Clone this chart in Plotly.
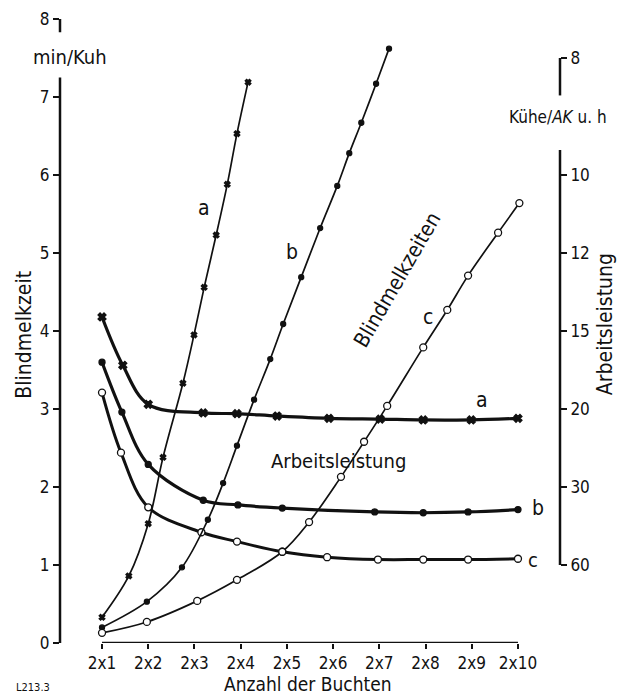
import plotly.graph_objects as go

# ---------------- data (x in "Buchten" units, y in min/Kuh) ----------------
x_ticks = [1, 2, 3, 4, 5, 6, 7, 8, 9, 10]
x_ticktext = ["2x1", "2x2", "2x3", "2x4", "2x5", "2x6", "2x7", "2x8", "2x9", "2x10"]

left_ticks = [0, 1, 2, 3, 4, 5, 6, 7, 8]
right_tickvals = [7.5, 6, 5, 4, 3, 2, 1]          # positions on min/Kuh scale (60/k)
right_ticktext = ["8", "10", "12", "15", "20", "30", "60"]

# Arbeitsleistung (thick curves)
arb_a_x = [1, 1.45, 2, 3.19, 3.92, 4.79, 5.91, 7.02, 7.95, 8.99, 10]
arb_a_y = [4.18, 3.56, 3.06, 2.95, 2.94, 2.91, 2.88, 2.87, 2.86, 2.86, 2.88]
arb_b_x = [1, 1.43, 2, 3.19, 3.94, 4.9, 6.9, 7.95, 8.92, 10]
arb_b_y = [3.60, 2.96, 2.29, 1.83, 1.77, 1.73, 1.68, 1.67, 1.68, 1.71]
arb_c_x = [1, 1.41, 2, 3.15, 3.92, 4.9, 5.87, 6.97, 7.95, 8.92, 10]
arb_c_y = [3.21, 2.44, 1.74, 1.42, 1.30, 1.17, 1.10, 1.07, 1.07, 1.07, 1.08]

# Blindmelkzeiten (thin curves)
bl_a_x = [1, 1.58, 2.0, 2.32, 2.75, 2.99, 3.21, 3.47, 3.71, 3.92, 4.16]
bl_a_y = [0.33, 0.86, 1.53, 2.38, 3.33, 3.95, 4.56, 5.23, 5.88, 6.53, 7.19]
bl_b_x = [1, 1.97, 2.73, 3.29, 3.62, 3.92, 4.29, 4.64, 4.92, 5.31, 5.72, 6.09, 6.35, 6.61, 6.93, 7.21]
bl_b_y = [0.20, 0.53, 0.97, 1.58, 2.05, 2.53, 3.12, 3.64, 4.09, 4.69, 5.32, 5.86, 6.28, 6.67, 7.17, 7.62]
bl_c_x = [1, 1.97, 3.06, 3.92, 4.9, 5.48, 6.17, 6.67, 7.17, 7.95, 8.47, 8.92, 9.57, 10.03]
bl_c_y = [0.13, 0.27, 0.54, 0.81, 1.17, 1.55, 2.13, 2.58, 3.04, 3.79, 4.27, 4.71, 5.26, 5.64]

FONT = "DejaVu Sans Condensed, Liberation Sans Narrow, DejaVu Sans, sans-serif"
BLACK = "#111111"

fig = go.Figure()

def add_curve(xs, ys, width, symbol, size, fill):
    fig.add_trace(go.Scatter(
        x=xs, y=ys, mode="lines+markers",
        line=dict(color=BLACK, width=width, shape="spline", smoothing=1.0),
        marker=dict(symbol=symbol, size=size, color=fill,
                    line=dict(color=BLACK, width=1.3)),
        showlegend=False, hoverinfo="skip"))

# thick Arbeitsleistung curves
add_curve(arb_a_x, arb_a_y, 3.2, "x", 7, BLACK)
add_curve(arb_b_x, arb_b_y, 3.2, "circle", 6, BLACK)
add_curve(arb_c_x, arb_c_y, 3.0, "circle", 7, "white")
# thin Blindmelkzeiten curves
add_curve(bl_a_x, bl_a_y, 1.7, "x", 5, BLACK)
add_curve(bl_b_x, bl_b_y, 1.7, "circle", 5, BLACK)
add_curve(bl_c_x, bl_c_y, 1.7, "circle", 7, "white")

# dummy trace for right axis
fig.add_trace(go.Scatter(x=[1], y=[1], yaxis="y2", mode="markers",
                         marker=dict(opacity=0), showlegend=False, hoverinfo="skip"))

shapes = [
    # x axis line between first and last category
    dict(type="line", xref="x", yref="y", x0=1, x1=10, y0=0, y1=0,
         line=dict(color=BLACK, width=2.5)),
    # left axis line (broken below top '8')
    dict(type="line", xref="paper", yref="y", x0=0, x1=0, y0=0, y1=7.25,
         line=dict(color=BLACK, width=2.5)),
    dict(type="line", xref="paper", yref="y", x0=0, x1=0, y0=7.83, y1=8.0,
         line=dict(color=BLACK, width=2.5)),
    # right axis line
    dict(type="line", xref="paper", yref="y", x0=1, x1=1, y0=1, y1=6.32,
         line=dict(color=BLACK, width=2.5)),
    dict(type="line", xref="paper", yref="y", x0=1, x1=1, y0=7.02, y1=7.5,
         line=dict(color=BLACK, width=2.5)),
]

ann = []
def label(text, x, y, size=17, angle=0, xref="x", yref="y"):
    ann.append(dict(text=text, x=x, y=y, xref=xref, yref=yref, showarrow=False,
                    textangle=angle, font=dict(size=size, color=BLACK, family=FONT),
                    xanchor="center", yanchor="middle"))

label("a", 3.21, 5.58, 21)
label("b", 5.11, 5.01, 21)
label("c", 8.06, 4.18, 21)
label("a", 9.23, 3.12, 21)
label("b", 10.44, 1.73, 21)
label("c", 10.33, 1.06, 20)
label("Blindmelkzeiten", 7.39, 4.65, 21, angle=-60)
label("Arbeitsleistung", 6.11, 2.33, 20)
label("min/Kuh", 0.02, 0.939, 20, xref="paper", yref="paper")
label("Kühe/<i>AK</i> u. h", 0.996, 0.843, 17, xref="paper", yref="paper")
label("Arbeitsleistung", 1.09, 0.511, 21, angle=-90, xref="paper", yref="paper")
label("Blindmelkzeit", -0.072, 0.494, 21, angle=-90, xref="paper", yref="paper")
label("Anzahl der Buchten", 0.496, -0.065, 19, xref="paper", yref="paper")
label("L213.3", -0.054, -0.072, 11, xref="paper", yref="paper")

TICKFONT = dict(size=17, family=FONT, color=BLACK)

fig.update_layout(
    width=618, height=687,
    margin=dict(l=52, r=66, t=11, b=52, autoexpand=False),
    paper_bgcolor="white", plot_bgcolor="white",
    font=dict(family=FONT, color=BLACK, size=16),
    shapes=shapes, annotations=ann,
    xaxis=dict(range=[1 - 42 / 46.2, 10 + 42 / 46.2], tickvals=x_ticks, ticktext=x_ticktext,
               showgrid=False, zeroline=False, showline=False, automargin=False,
               ticks="outside", ticklen=5, tickwidth=2, tickcolor=BLACK,
               tickfont=TICKFONT),
    yaxis=dict(range=[0, 8], tickvals=left_ticks, ticktext=[str(v) for v in left_ticks],
               showgrid=False, zeroline=False, showline=False, automargin=False,
               ticks="outside", ticklen=6, tickwidth=2, tickcolor=BLACK,
               tickfont=TICKFONT),
    yaxis2=dict(range=[0, 8], overlaying="y", side="right",
                tickvals=right_tickvals, ticktext=right_ticktext,
                showgrid=False, zeroline=False, showline=False, automargin=False,
                ticks="outside", ticklen=6, tickwidth=2, tickcolor=BLACK,
                tickfont=TICKFONT),
)

fig.write_html("out.html")
